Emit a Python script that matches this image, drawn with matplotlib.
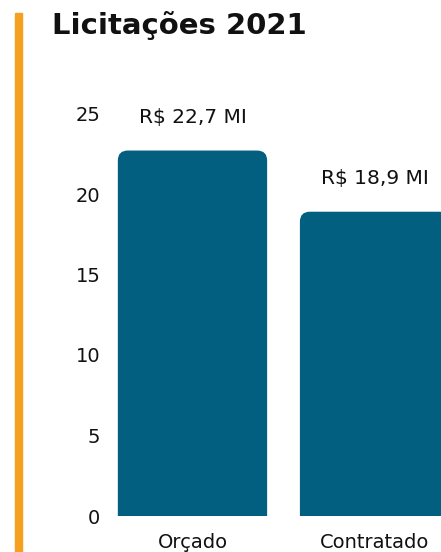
import matplotlib
matplotlib.use("Agg")
import matplotlib.pyplot as plt
from matplotlib.patches import FancyBboxPatch, Rectangle

categorias = ["Orçado", "Contratado"]
valores = [22.7, 18.9]
rotulos = ["R$ 22,7 MI", "R$ 18,9 MI"]
titulo = "Licitações 2021"
yticks = [0, 5, 10, 15, 20, 25]

azul = "#035f80"
laranja = "#f5a11f"

plt.rcParams["font.family"] = ["DejaVu Sans"]

W, H = 441, 552
fig = plt.figure(figsize=(W / 100, H / 100), dpi=100)

# faixa laranja a esquerda
fig.patches.append(Rectangle((15 / W, 0), 7 / W, 1 - 13 / H, transform=fig.transFigure,
                             color=laranja, zorder=0))
fig.text(52 / W, 1 - 25 / H, titulo, fontsize=21, fontweight="bold", color="#111111",
         va="center", ha="left")

ax = fig.add_axes([110 / W, 36 / H, 1 - 110 / W, (516 - 95) / H])
x = list(range(len(categorias)))
barras = ax.bar(x, valores, width=0.82, color=azul, alpha=0)

# cantos superiores arredondados (o de baixo fica cortado pelo eixo)
for b in barras:
    p = FancyBboxPatch((b.get_x(), -2), b.get_width(), b.get_height() + 2,
                       boxstyle="round,pad=0,rounding_size=0.055",
                       mutation_aspect=11.3, fc=azul, ec="none")
    ax.add_patch(p)

for xi, v, r in zip(x, valores, rotulos):
    ax.text(xi, v + 1.45, r, ha="center", va="bottom", fontsize=14.5, color="#111111")

ax.set_xlim(-0.453, 1.365)
ax.set_ylim(0, (516 - 95) / 16.1)
ax.set_yticks(yticks)
ax.set_xticks(x)
ax.set_xticklabels(categorias)
ax.tick_params(axis="both", length=0, labelsize=14, colors="#111111")
ax.tick_params(axis="y", pad=7)
ax.tick_params(axis="x", pad=12)
for s in ax.spines.values():
    s.set_visible(False)

fig.savefig("out.png", dpi=100)
